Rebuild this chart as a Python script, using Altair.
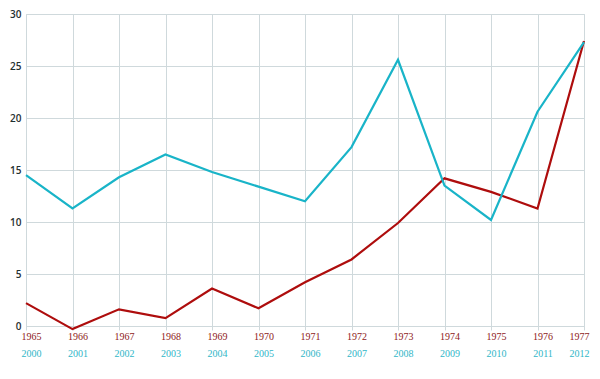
import altair as alt
import pandas as pd

years_a = list(range(1965, 1978))
values_a = [2.2, -0.3, 1.6, 0.75, 3.6, 1.7, 4.2, 6.4, 9.9, 14.2, 12.9, 11.3, 27.4]
years_b = list(range(2000, 2013))
values_b = [14.5, 11.3, 14.3, 16.5, 14.8, 13.4, 12.0, 17.2, 25.6, 13.5, 10.2, 20.6, 27.3]

RED = "#ae0d0d"
CYAN = "#19b4c8"
GRID = "#cfd9dc"

df_a = pd.DataFrame({"year": years_a, "value": values_a})
df_b = pd.DataFrame({"year": years_b, "value": values_b})

yscale = alt.Scale(domain=[0, 30], nice=False, zero=False)
yaxis = alt.Axis(values=[0, 5, 10, 15, 20, 25, 30], grid=True, gridColor=GRID,
                 domain=False, ticks=False, labelFont="Open Sans",
                 labelFontSize=10, labelFontWeight=600, labelColor="#1f3030",
                 labelPadding=5, labelFlush=False, title=None)

red = alt.Chart(df_a).mark_line(color=RED, strokeWidth=2.2, clip=False).encode(
    x=alt.X("year:Q", scale=alt.Scale(domain=[1965, 1977], nice=False, zero=False),
            axis=alt.Axis(values=years_a, format="d", grid=True, gridColor=GRID,
                          domainColor=GRID, tickColor=GRID, tickSize=4,
                          labelColor="#8e1a1a", labelFont="Liberation Serif",
                          labelFontSize=10, labelPadding=1, labelOffset=5,
                          labelAlign=alt.expr("datum.value == 1977 ? 'right' : 'center'"),
                          labelFlush=False, labelOverlap=False, title=None,
                          orient="bottom")),
    y=alt.Y("value:Q", scale=yscale, axis=yaxis),
)

cyan = alt.Chart(df_b).mark_line(color=CYAN, strokeWidth=2.2, clip=False).encode(
    x=alt.X("year:Q", scale=alt.Scale(domain=[2000, 2012], nice=False, zero=False),
            axis=alt.Axis(values=years_b, format="d", grid=False, domain=False,
                          ticks=False, labelColor="#30b6c8", labelFont="Liberation Serif",
                          labelFontSize=10, labelPadding=0, labelOffset=5,
                          labelAlign=alt.expr("datum.value == 2012 ? 'right' : 'center'"),
                          labelFlush=False, labelOverlap=False, offset=22,
                          title=None, orient="bottom")),
    y=alt.Y("value:Q", scale=yscale, axis=yaxis),
)

chart = alt.layer(red, cyan).resolve_scale(x="independent").properties(
    width=558, height=312,
    autosize=alt.AutoSizeParams(type="none"),
    padding={"left": 18, "top": 6, "right": 8, "bottom": 44},
).configure_view(stroke=GRID).configure_axis(gridWidth=1)

chart.save("out.html", embed_options={"renderer": "svg", "actions": False})
